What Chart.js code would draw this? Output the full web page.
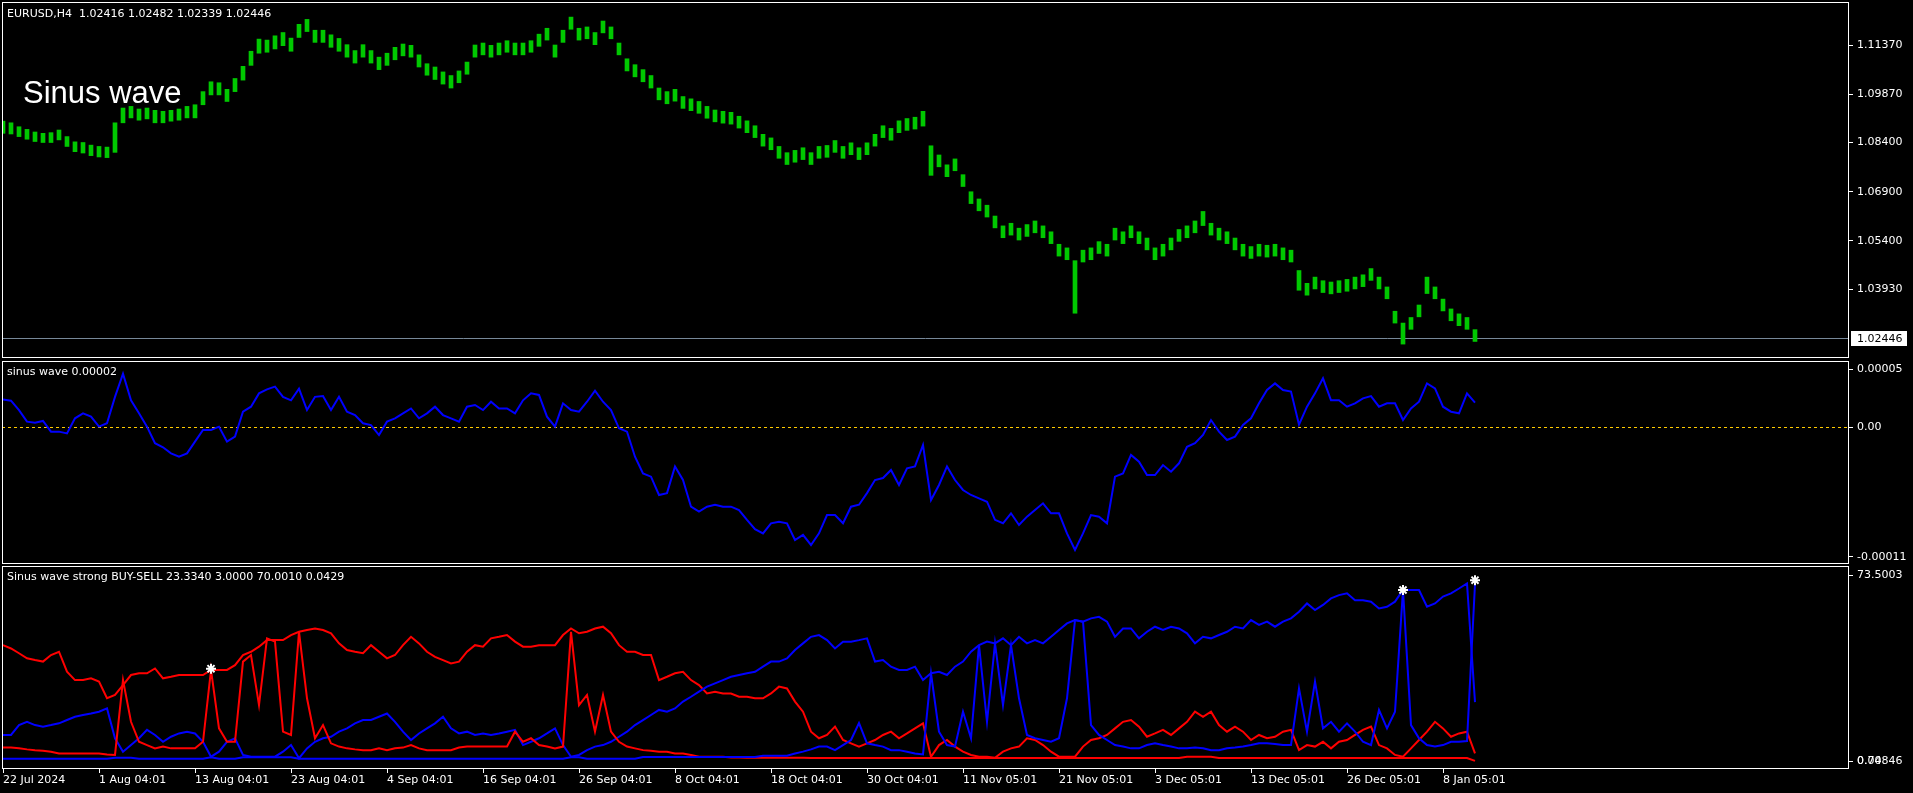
<!DOCTYPE html>
<html>
<head>
<meta charset="utf-8">
<script src="https://cdn.jsdelivr.net/npm/chart.js@4.4.1/dist/chart.umd.min.js"></script>
<style>
  html, body { margin: 0; padding: 0; background: #000; }
  #wrap { position: relative; width: 1913px; height: 793px; overflow: hidden; background: #000; }
  canvas { position: absolute; left: 0; }
  .lbl { position: absolute; color: #fff; font: 11px "DejaVu Sans", sans-serif; line-height: 1; white-space: pre; }
  .big { font: 31px "Liberation Sans", Arial, sans-serif; line-height: 1; }
</style>
</head>
<body>
<div id="wrap">
  <canvas id="priceChart" width="1913" height="360" style="top:0"></canvas>
  <canvas id="sinusChart" width="1913" height="205" style="top:360px"></canvas>
  <canvas id="strengthChart" width="1913" height="228" style="top:565px"></canvas>
  <div class="lbl" style="left:7px; top:8px">EURUSD,H4  1.02416 1.02482 1.02339 1.02446</div>
  <div class="lbl big" style="left:23px; top:77px">Sinus wave</div>
  <div class="lbl" style="left:7px; top:366px">sinus wave 0.00002</div>
  <div class="lbl" style="left:7px; top:571px">Sinus wave strong BUY-SELL 23.3340 3.0000 70.0010 0.0429</div>
</div>
<script>
// time axis: one point = 4 H4 bars
const xLabels = ['22 Jul 2024', '1 Aug 04:01', '13 Aug 04:01', '23 Aug 04:01', '4 Sep 04:01',
  '16 Sep 04:01', '26 Sep 04:01', '8 Oct 04:01', '18 Oct 04:01', '30 Oct 04:01', '11 Nov 05:01',
  '21 Nov 05:01', '3 Dec 05:01', '13 Dec 05:01', '26 Dec 05:01', '8 Jan 05:01'];
const xLabelIdx = [0, 12, 24, 36, 48, 60, 72, 84, 96, 108, 120, 132, 144, 156, 168, 180];

// EURUSD H4 price range per point
const priceLow = [
  1.0868,1.0866,1.0858,1.0850,1.0843,1.0840,1.0840,1.0848,1.0828,1.0812,
  1.0808,1.0800,1.0796,1.0794,1.0810,1.0900,1.0915,1.0908,1.0912,1.0900,
  1.0900,1.0905,1.0908,1.0915,1.0915,1.0955,1.0985,1.0985,1.0965,1.0995,
  1.1030,1.1075,1.1112,1.1115,1.1125,1.1135,1.1118,1.1160,1.1178,1.1145,
  1.1145,1.1130,1.1118,1.1100,1.1082,1.1100,1.1082,1.1062,1.1075,1.1092,
  1.1104,1.1100,1.1070,1.1045,1.1032,1.1018,1.1006,1.1022,1.1048,1.1100,
  1.1107,1.1100,1.1107,1.1115,1.1107,1.1107,1.1115,1.1133,1.1152,1.1100,
  1.1145,1.1185,1.1152,1.1156,1.1138,1.1174,1.1156,1.1107,1.1058,1.1040,
  1.1025,1.1006,1.0970,1.0958,1.0966,1.0944,1.0937,1.0929,1.0914,1.0903,
  1.0899,1.0896,1.0884,1.0870,1.0855,1.0829,1.0818,1.0792,1.0773,1.0780,
  1.0788,1.0773,1.0792,1.0795,1.0810,1.0792,1.0803,1.0788,1.0803,1.0829,
  1.0855,1.0847,1.0870,1.0877,1.0881,1.0890,1.0740,1.0766,1.0736,1.0754,
  1.0706,1.0654,1.0632,1.0613,1.0580,1.0550,1.0558,1.0543,1.0554,1.0565,
  1.0550,1.0532,1.0494,1.0483,1.0320,1.0476,1.0483,1.0502,1.0494,1.0543,
  1.0532,1.0550,1.0532,1.0513,1.0483,1.0494,1.0513,1.0539,1.0550,1.0565,
  1.0587,1.0558,1.0543,1.0532,1.0513,1.0494,1.0487,1.0494,1.0491,1.0494,
  1.0483,1.0476,1.0390,1.0375,1.0394,1.0383,1.0379,1.0383,1.0387,1.0394,
  1.0401,1.0420,1.0394,1.0364,1.0290,1.0226,1.0271,1.0309,1.0380,1.0364,
  1.0327,1.0297,1.0282,1.0271,1.0234
];
const priceHigh = [
  1.0905,1.0900,1.0888,1.0880,1.0872,1.0868,1.0870,1.0878,1.0858,1.0842,
  1.0840,1.0832,1.0828,1.0826,1.0900,1.0945,1.0950,1.0942,1.0945,1.0938,
  1.0935,1.0938,1.0942,1.0950,1.0955,1.0995,1.1025,1.1022,1.1002,1.1035,
  1.1072,1.1118,1.1155,1.1152,1.1165,1.1175,1.1158,1.1200,1.1215,1.1182,
  1.1182,1.1168,1.1157,1.1138,1.1120,1.1138,1.1120,1.1100,1.1112,1.1130,
  1.1140,1.1136,1.1107,1.1080,1.1070,1.1055,1.1044,1.1058,1.1085,1.1137,
  1.1143,1.1136,1.1143,1.1150,1.1143,1.1143,1.1150,1.1170,1.1188,1.1137,
  1.1182,1.1222,1.1188,1.1192,1.1175,1.1210,1.1192,1.1143,1.1095,1.1077,
  1.1062,1.1044,1.1006,1.0995,1.1002,1.0980,1.0973,1.0965,1.0950,1.0939,
  1.0935,1.0932,1.0920,1.0906,1.0891,1.0865,1.0854,1.0828,1.0809,1.0816,
  1.0824,1.0809,1.0828,1.0831,1.0846,1.0828,1.0839,1.0824,1.0839,1.0865,
  1.0891,1.0883,1.0906,1.0913,1.0917,1.0935,1.0830,1.0802,1.0772,1.0790,
  1.0742,1.0690,1.0668,1.0649,1.0616,1.0586,1.0594,1.0579,1.0590,1.0601,
  1.0586,1.0568,1.0530,1.0519,1.0480,1.0512,1.0519,1.0538,1.0530,1.0579,
  1.0568,1.0586,1.0568,1.0549,1.0519,1.0530,1.0549,1.0575,1.0586,1.0601,
  1.0630,1.0594,1.0579,1.0568,1.0549,1.0530,1.0523,1.0530,1.0527,1.0530,
  1.0519,1.0512,1.0450,1.0411,1.0430,1.0419,1.0415,1.0419,1.0423,1.0430,
  1.0437,1.0456,1.0430,1.0400,1.0326,1.0290,1.0307,1.0345,1.0430,1.0400,
  1.0363,1.0333,1.0318,1.0307,1.0270
];
const lastPrice = 1.02446;
const priceTicks = [1.11370, 1.09870, 1.08400, 1.06900, 1.05400, 1.03930];

// sinus wave, in units of 0.000001
const sinusWave = [
  23.8,22.7,14.6,4.6,3.7,5.2,-4.0,-4.0,-5.5,7.5,
  11.8,8.9,0.3,3.2,26,46,23,11.8,0.3,-14,
  -17.5,-22.7,-25.6,-22.7,-12.6,-2.6,-2.6,0.3,-12.6,-8.3,
  13.2,17.5,29,32.5,34.8,26,23,33,14.6,26,
  26.7,14.6,26,13.2,10.3,3.2,1.7,-6.9,4.6,7.5,
  11.8,16,7.5,11.8,17.5,10.3,7.5,4.6,17.5,19,
  14.6,21.8,16,16,11.8,23,29,27.6,8.9,0.3,
  20.4,14.6,13.2,21.8,31.3,21.8,14.6,-1.1,-4.0,-25.6,
  -40,-42.8,-58.6,-57,-34,-45.7,-68.7,-73,-68.7,-67,
  -68.7,-68.7,-71.6,-80,-88,-91.7,-83,-81.6,-83,-97.4,
  -93,-101.7,-91.7,-75.9,-75.9,-83,-68.7,-67,-57,-45.7,
  -44,-37,-50,-35.6,-34,-15.5,-63,-50,-34,-45.7,
  -54.3,-58.6,-61.5,-64.4,-80,-83,-74.4,-84.5,-77.3,-71.6,
  -65.8,-74.4,-74.4,-91.7,-106,-91.7,-75.9,-77.3,-83,-42.8,
  -40,-24.1,-29.9,-41.4,-41.4,-32.8,-38.5,-31.3,-17,-14,
  -6.9,6,-4.0,-11.2,-8.3,1.7,7.5,20.4,31.9,37.6,
  31.9,30.5,2,17.5,29,42,23,23,17.5,20.4,
  24.7,26.7,17.5,20.4,20.4,6,16,21.8,37.6,33.3,
  17.5,13.2,11.8,29,21
];
const sinusLevel = 0;
const sinusTicks = [50, 0, -112];
const sinusTickLabels = ['0.00005', '0.00', '-0.00011'];

// Sinus wave strong BUY-SELL buffers
const sellMain = [
  45.8,44.5,42.6,40.6,39.9,39.3,41.9,43.2,35.3,32.0,
  32.0,32.7,31.4,24.8,26.1,30.0,34.0,34.7,34.7,36.6,
  32.7,33.3,34.0,34.0,34.0,34.0,36.0,36.0,36.0,37.9,
  41.9,43.2,45.2,47.8,47.8,47.8,49.8,51.1,51.8,52.4,
  51.8,50.5,46.5,43.9,43.2,42.6,45.8,43.2,40.6,41.9,
  45.8,49.1,46.5,43.2,41.2,39.9,38.6,39.3,43.2,45.8,
  45.2,48.5,49.1,49.8,47.2,45.2,45.2,45.8,45.8,45.8,
  49.8,52.4,50.5,51.1,52.4,53.1,50.5,45.8,43.2,43.2,
  41.9,41.9,32.0,33.3,34.7,35.3,32.0,30.0,26.7,27.4,
  26.7,26.7,25.4,25.4,24.8,24.8,26.7,29.4,28.7,23.5,
  19.5,11.6,9.0,10.3,13.6,8.3,7.0,5.7,7.0,8.3,
  10.3,11.6,9.0,10.9,12.9,14.9,1.7,6.3,8.3,5.7,
  3.7,2.4,1.7,1.7,1.3,3.7,5.0,5.7,9.0,8.3,
  6.3,3.7,1.7,1.7,1.7,5.7,8.3,9.0,10.3,12.9,
  15.5,16.2,13.6,9.6,10.9,12.3,10.3,12.9,15.5,19.5,
  17.5,19.5,14.2,11.6,13.6,11.6,8.3,10.3,9.0,9.6,
  11.6,12.3,4.3,6.3,5.7,7.6,5.0,7.6,8.3,10.3,
  12.3,13.6,6.3,5.0,2.4,1.7,5.0,8.3,11.6,15.5,
  12.9,9.6,10.9,11.6,3.0
];
const buyMain = [
  10.3,10.3,14.2,15.5,14.2,13.6,14.2,14.9,16.2,17.5,
  18.2,18.8,19.5,20.8,9.0,3.7,6.3,9.0,12.3,10.3,
  7.6,9.6,10.9,11.6,10.9,7.6,1.7,3.7,7.6,9.0,
  2.4,1.7,1.7,1.7,1.7,3.7,6.3,1.1,5.0,7.6,
  9.0,9.6,11.6,12.9,14.9,16.2,16.2,17.5,18.8,15.5,
  11.6,8.3,10.9,12.9,14.9,17.5,12.9,10.9,11.6,10.3,
  10.9,10.3,10.9,11.6,12.3,6.3,7.6,9.0,10.9,12.9,
  6.3,1.7,2.4,4.3,5.7,6.3,7.6,9.6,11.6,14.2,
  16.2,18.2,20.2,19.5,20.8,23.5,25.4,27.4,29.4,30.7,
  32.0,33.3,34.0,34.7,35.3,37.3,39.3,39.3,40.6,43.9,
  46.5,49.1,49.8,47.8,44.5,47.2,47.2,47.8,48.5,39.3,
  39.9,37.3,36.0,36.0,37.3,32.0,34.7,35.3,34.0,37.3,
  39.3,43.2,45.8,47.2,46.5,48.5,45.8,49.1,46.5,47.8,
  46.5,49.1,51.8,54.4,55.7,55.1,56.4,57.0,55.1,49.1,
  52.4,52.4,48.5,51.1,53.1,51.8,53.1,52.4,50.5,46.5,
  49.1,48.5,49.8,51.1,53.1,52.4,55.7,53.8,55.1,53.1,
  55.1,56.4,59.0,62.3,59.7,61.7,64.3,65.6,66.3,63.6,
  63.6,63.0,60.3,61.0,63.0,67.6,67.6,67.6,61.0,62.3,
  65.0,66.3,68.2,70.2,23.3
];
const sellSignal = [
  5.3,5.3,5.0,4.6,4.3,4.1,3.7,3.0,3.0,3.0,
  3.0,3.0,3.0,2.6,2.4,32.0,15.5,7.6,6.3,5.0,
  5.7,5.0,5.0,5.0,5.0,7.6,36.0,12.9,7.6,7.6,
  39.3,41.9,22.1,48.5,47.2,11.6,10.3,51.1,24.8,9.0,
  14.2,7.0,5.7,5.0,4.6,4.3,4.3,5.0,4.3,5.0,
  5.3,6.3,5.0,4.3,4.3,4.3,4.3,5.3,5.7,5.7,
  5.7,5.7,5.7,5.7,11.6,7.6,9.0,6.3,5.7,5.0,
  5.7,51.1,22.1,26.1,11.6,26.1,11.6,7.6,5.7,5.0,
  4.3,4.1,3.7,3.7,3.0,3.0,2.4,1.7,1.7,1.7,
  1.7,1.4,1.4,1.3,1.3,1.3,1.3,1.3,1.3,1.3,
  1.3,1.2,1.2,1.2,1.2,1.2,1.2,1.2,1.2,1.2,
  1.2,1.2,1.2,1.2,1.2,1.2,1.2,1.2,1.2,1.2,
  1.2,1.2,1.2,1.2,1.2,1.2,1.2,1.2,1.2,1.2,
  1.2,1.2,1.2,1.2,1.2,1.2,1.2,1.2,1.2,1.2,
  1.2,1.2,1.2,1.2,1.2,1.2,1.2,1.2,1.7,1.7,
  1.7,1.7,1.2,1.2,1.2,1.2,1.2,1.2,1.2,1.2,
  1.2,1.2,1.2,1.2,1.2,1.2,1.2,1.2,1.2,1.2,
  1.2,1.2,1.2,1.2,1.2,1.2,1.2,1.2,1.2,1.2,
  1.2,1.2,1.2,1.2,0.04
];
const buySignal = [
  0.9,0.9,0.9,0.9,0.9,0.9,0.9,0.9,0.9,0.9,
  0.9,0.9,0.9,0.9,1.3,1.3,1.3,0.9,0.9,0.9,
  0.9,0.9,0.9,0.9,0.9,0.9,1.5,0.9,0.9,0.9,
  1.5,1.5,1.5,1.5,1.5,1.5,1.5,0.9,0.9,0.9,
  0.9,0.9,0.9,0.9,0.9,0.9,0.9,0.9,0.9,0.9,
  0.9,0.9,0.9,0.9,0.9,0.9,0.9,0.9,0.9,0.9,
  0.9,0.9,0.9,0.9,0.9,0.9,0.9,0.9,0.9,0.9,
  0.9,1.5,1.5,0.9,0.9,0.9,0.9,0.9,0.9,0.9,
  1.6,1.6,1.6,1.6,1.6,1.6,1.6,1.6,1.6,1.6,
  1.6,1.6,1.6,1.6,1.6,2.1,2.1,2.1,2.1,3.0,
  3.7,4.6,5.7,5.7,4.3,6.3,8.3,15.0,7.0,6.3,
  5.7,4.3,4.3,3.7,3.0,2.6,34.7,11.6,6.3,5.7,
  19.5,9.0,45.8,15.5,46.5,22.1,45.8,24.8,10.3,9.0,
  8.3,7.6,9.0,24.8,55.7,55.1,14.2,10.3,8.3,6.3,
  5.7,5.0,5.0,6.3,7.0,6.3,5.7,5.0,5.0,5.3,
  5.0,4.3,4.3,5.0,5.3,5.7,6.3,7.0,7.0,6.7,
  6.3,6.3,28.7,11.6,31.4,12.9,15.5,11.6,14.9,11.6,
  7.6,6.3,20.2,12.9,19.5,67.6,14.2,9.0,6.3,5.7,
  6.3,7.6,7.6,7.9,70.0
];
const signalIdx = [26, 175, 184];
const signalVal = [36.5, 67.6, 71.5];
const strengthTicks = [73.5003, 0.0001, 0];
const strengthTickLabels = ['73.5003', '0.74846', '0.00'];

const xMin = -0.125, xMax = 230.75;
const pts = arr => arr.map((v, i) => ({ x: i, y: v }));

Chart.defaults.font.family = '"DejaVu Sans", sans-serif';
Chart.defaults.font.size = 11;
Chart.defaults.color = '#fff';
Chart.defaults.animation = false;

// fixed axis sizes, no extra padding for edge labels
const fixY = s => { s.width = 64; s.paddingTop = 0; s.paddingBottom = 0; };
const fixX = s => { s.height = 24; s.paddingLeft = 0; s.paddingRight = 0; };

const boxPlugin = {
  id: 'box',
  afterDraw(chart) {
    const a = chart.chartArea, ctx = chart.ctx;
    ctx.save();
    ctx.strokeStyle = '#fff';
    ctx.lineWidth = 1;
    ctx.strokeRect(a.left + 0.5, a.top + 0.5, a.right - a.left - 1, a.bottom - a.top - 1);
    ctx.restore();
  }
};

const baseOpts = (padding) => ({
  responsive: false,
  devicePixelRatio: 1,
  events: [],
  layout: { padding, autoPadding: false },
  plugins: { legend: { display: false }, tooltip: { enabled: false } }
});

const hiddenX = { type: 'linear', min: xMin, max: xMax, display: false, offset: false };

const yAxis = (min, max, ticks, labelFn) => ({
  position: 'right',
  min, max,
  afterFit: fixY,
  afterBuildTicks: s => { s.ticks = ticks.map(v => ({ value: v })); },
  ticks: { color: '#fff', padding: 4, autoSkip: false, callback: labelFn },
  grid: { drawOnChartArea: false, tickLength: 4, color: '#fff' },
  border: { display: false }
});

// price panel
new Chart(document.getElementById('priceChart'), {
  type: 'bar',
  data: {
    datasets: [{
      data: priceLow.map((lo, i) => ({ x: i, y: [lo, priceHigh[i]] })),
      backgroundColor: '#00c800',
      barThickness: 4,
      grouped: false
    }]
  },
  options: {
    ...baseOpts({ left: 2, top: 2, right: 0, bottom: 2 }),
    scales: {
      x: hiddenX,
      y: yAxis(1.01836, 1.12680, priceTicks, v => v.toFixed(5))
    }
  },
  plugins: [boxPlugin, {
    id: 'lastPrice',
    beforeDatasetsDraw(chart) {
      const a = chart.chartArea, ctx = chart.ctx;
      const y = Math.round(chart.scales.y.getPixelForValue(lastPrice)) + 0.5;
      ctx.save();
      ctx.strokeStyle = '#778899';
      ctx.lineWidth = 1;
      ctx.beginPath(); ctx.moveTo(a.left, y); ctx.lineTo(a.right, y); ctx.stroke();
      ctx.restore();
    },
    afterDraw(chart) {
      const a = chart.chartArea, ctx = chart.ctx;
      const y = Math.round(chart.scales.y.getPixelForValue(lastPrice));
      ctx.save();
      ctx.fillStyle = '#fff';
      ctx.fillRect(a.right + 2, y - 7, 56, 15);
      ctx.fillStyle = '#000';
      ctx.font = '11px "DejaVu Sans", sans-serif';
      ctx.textBaseline = 'middle';
      ctx.fillText(lastPrice.toFixed(5), a.right + 8, y + 1);
      ctx.restore();
    }
  }]
});

// sinus wave panel
new Chart(document.getElementById('sinusChart'), {
  type: 'line',
  data: {
    datasets: [{
      data: pts(sinusWave),
      borderColor: '#0000ff',
      borderWidth: 2,
      pointRadius: 0,
      tension: 0
    }]
  },
  options: {
    ...baseOpts({ left: 2, top: 1, right: 0, bottom: 1 }),
    scales: {
      x: hiddenX,
      y: yAxis(-118.1, 56.9, sinusTicks, v => sinusTickLabels[sinusTicks.indexOf(v)])
    }
  },
  plugins: [boxPlugin, {
    id: 'level',
    beforeDatasetsDraw(chart) {
      const a = chart.chartArea, ctx = chart.ctx;
      const y = Math.round(chart.scales.y.getPixelForValue(sinusLevel)) + 0.5;
      ctx.save();
      ctx.strokeStyle = '#ffcc00';
      ctx.lineWidth = 1;
      ctx.setLineDash([3, 3]);
      ctx.beginPath(); ctx.moveTo(a.left, y); ctx.lineTo(a.right, y); ctx.stroke();
      ctx.restore();
    }
  }]
});

// strength panel
const lineSet = (arr, color) => ({
  data: pts(arr), borderColor: color, borderWidth: 2, pointRadius: 0, tension: 0
});

new Chart(document.getElementById('strengthChart'), {
  type: 'line',
  data: {
    datasets: [
      { data: signalIdx.map((x, i) => ({ x, y: signalVal[i] })), showLine: false,
        pointStyle: 'star', pointRadius: 5, pointBorderColor: '#fff', pointBorderWidth: 2,
        pointBackgroundColor: '#fff' },
      lineSet(buySignal, '#0000ff'),
      lineSet(sellSignal, '#ff0000'),
      lineSet(buyMain, '#0000ff'),
      lineSet(sellMain, '#ff0000')
    ]
  },
  options: {
    ...baseOpts({ left: 2, top: 1, right: 0, bottom: 0 }),
    scales: {
      x: {
        type: 'linear', min: xMin, max: xMax, offset: false,
        afterFit: fixX,
        afterBuildTicks: s => { s.ticks = xLabelIdx.map(v => ({ value: v })); },
        ticks: {
          color: '#fff', autoSkip: false, maxRotation: 0, align: 'start', padding: 1,
          callback: v => xLabels[xLabelIdx.indexOf(v)]
        },
        grid: { drawOnChartArea: false, tickLength: 4, color: '#fff' },
        border: { display: false }
      },
      y: yAxis(-3.16, 77.1, strengthTicks, v => strengthTickLabels[strengthTicks.indexOf(v)])
    }
  },
  plugins: [boxPlugin]
});
</script>
</body>
</html>
